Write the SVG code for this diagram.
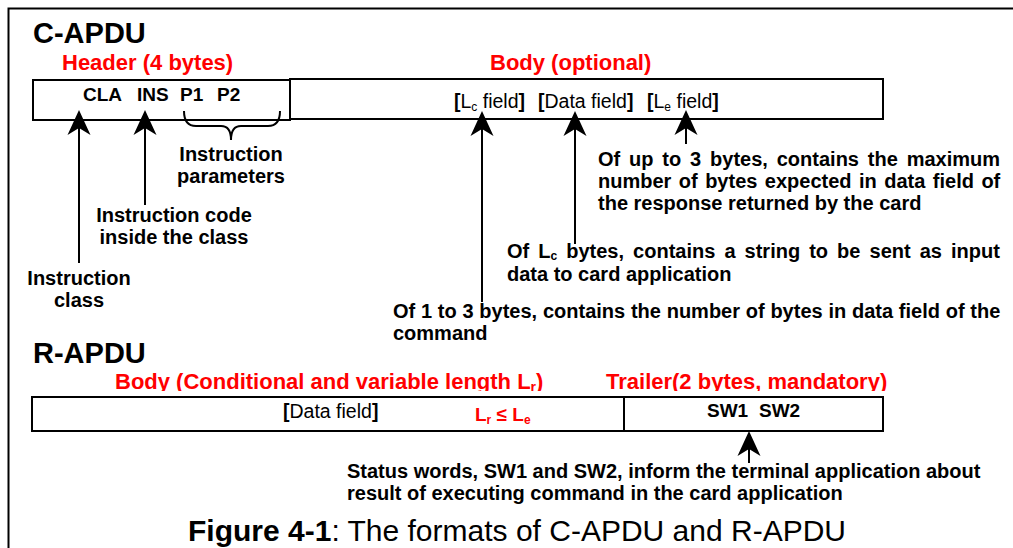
<svg xmlns="http://www.w3.org/2000/svg" xmlns:xlink="http://www.w3.org/1999/xlink" width="1013" height="548" viewBox="0 0 1013 548">
  <style>
    text { font-family: "Liberation Sans", Arial, sans-serif; fill: #000; }
    .title { font-size: 29px; font-weight: bold; }
    .sect { font-size: 22px; font-weight: bold; fill: #ff0000; }
    .note { font-size: 20px; font-weight: bold; }
    .code { font-size: 19px; font-weight: bold; }
    .fld { font-size: 19.5px; }
    .b { font-weight: bold; }
    .sub { font-size: 12px; }
    .box { fill: #fff; stroke: #000; stroke-width: 2; }
    .frame { fill: none; stroke: #000; stroke-width: 2; }
    .conn line, .conn path.brace { stroke: #000; stroke-width: 2; fill: none; }
  </style>
  <defs>
    <!-- concave arrowhead, tip at the origin, pointing up -->
    <path id="head" d="M0,0 L11.5,25 L0,18 L-11.5,25 Z" fill="#000"/>
    <clipPath id="rcut">
      <rect x="0" y="360" width="1013" height="31"/>
    </clipPath>
  </defs>

  <rect width="1013" height="548" fill="#fff"/>
  <rect class="frame" x="8.5" y="8.5" width="1030" height="560"/>

  <!-- command APDU -->
  <text class="title" x="33" y="43">C-APDU</text>

  <g id="c-header">
    <text class="sect" x="62" y="70">Header (4 bytes)</text>
    <rect class="box" x="33" y="80" width="257" height="40"/>
    <text class="code" x="83" y="101">CLA</text>
    <text class="code" x="137" y="101">INS</text>
    <text class="code" x="180" y="101">P1</text>
    <text class="code" x="217" y="101">P2</text>
  </g>

  <g id="c-body">
    <text class="sect" x="490" y="70">Body (optional)</text>
    <rect class="box" x="290" y="79" width="593" height="40"/>
    <text class="fld" x="454" y="108"><tspan class="b">[</tspan>L<tspan class="sub" dy="3">c</tspan><tspan dy="-3"> field</tspan><tspan class="b">]</tspan></text>
    <text class="fld" x="538" y="108"><tspan class="b">[</tspan>Data field<tspan class="b">]</tspan></text>
    <text class="fld" x="647" y="108"><tspan class="b">[</tspan>L<tspan class="sub" dy="3">e</tspan><tspan dy="-3"> field</tspan><tspan class="b">]</tspan></text>
  </g>

  <g id="lbl-params">
    <text class="note" x="231" y="161" text-anchor="middle">Instruction</text>
    <text class="note" x="231" y="183" text-anchor="middle">parameters</text>
  </g>

  <g id="lbl-ins">
    <text class="note" x="174" y="222" text-anchor="middle">Instruction code</text>
    <text class="note" x="174" y="244" text-anchor="middle">inside the class</text>
  </g>

  <g id="lbl-cla">
    <text class="note" x="79" y="285" text-anchor="middle">Instruction</text>
    <text class="note" x="79" y="307" text-anchor="middle">class</text>
  </g>

  <!-- justified paragraph lines: extra word spacing fills the line -->
  <g id="lbl-le">
    <text class="note" x="598" y="166" word-spacing="3.3">Of up to 3 bytes, contains the maximum</text>
    <text class="note" x="598" y="188" word-spacing="1.9">number of bytes expected in data field of</text>
    <text class="note" x="598" y="210">the response returned by the card</text>
  </g>

  <g id="lbl-data">
    <text class="note" x="507" y="258" word-spacing="3.5">Of L<tspan class="sub" dy="2">c</tspan><tspan dy="-2"> bytes, contains a string to be sent as input</tspan></text>
    <text class="note" x="507" y="281">data to card application</text>
  </g>

  <g id="lbl-lc">
    <text class="note" x="393" y="318" word-spacing="0.2">Of 1 to 3 bytes, contains the number of bytes in data field of the</text>
    <text class="note" x="393" y="340">command</text>
  </g>

  <!-- response APDU -->
  <text class="title" x="33" y="363">R-APDU</text>

  <g id="r-body">
    <text class="sect" x="115" y="389" clip-path="url(#rcut)">Body (Conditional and variable length L<tspan font-size="14px" dy="3">r</tspan><tspan dy="-3">)</tspan></text>
    <rect class="box" x="32" y="397" width="592" height="34"/>
    <text class="fld" x="283" y="418"><tspan class="b">[</tspan>Data field<tspan class="b">]</tspan></text>
    <text class="code" x="475" y="421" style="fill:#ff0000">L<tspan class="sub" dy="3">r</tspan><tspan dy="-3"> ≤ L</tspan><tspan class="sub" dy="3">e</tspan></text>
  </g>

  <g id="r-trailer">
    <text class="sect" x="606" y="389" clip-path="url(#rcut)">Trailer(2 bytes, mandatory)</text>
    <rect class="box" x="624" y="397" width="259" height="34"/>
    <text class="code" x="707" y="417">SW1</text>
    <text class="code" x="759" y="417">SW2</text>
  </g>

  <g id="lbl-sw">
    <text class="note" x="347" y="478">Status words, SW1 and SW2, inform the terminal application about</text>
    <text class="note" x="347" y="500">result of executing command in the card application</text>
  </g>

  <g id="connectors" class="conn">
    <line x1="79" y1="128" x2="79" y2="263"/>
    <use xlink:href="#head" x="79" y="110"/>
    <line x1="145" y1="128" x2="145" y2="205"/>
    <use xlink:href="#head" x="145" y="110"/>
    <path class="brace" d="M184,111 Q184,126 196,126 L221,126 Q231,126 231,140 Q231,126 241,126 L268,126 Q280,126 280,111"/>
    <line x1="482" y1="129" x2="482" y2="302"/>
    <use xlink:href="#head" x="482" y="111"/>
    <line x1="575" y1="129" x2="575" y2="244"/>
    <use xlink:href="#head" x="575" y="111"/>
    <line x1="686" y1="128" x2="686" y2="144"/>
    <use xlink:href="#head" x="686" y="110"/>
    <line x1="749" y1="449" x2="749" y2="463"/>
    <use xlink:href="#head" x="749" y="431"/>
  </g>

  <text x="188" y="541" style="font-size:30px"><tspan class="b">Figure 4-1</tspan>: The formats of C-APDU and R-APDU</text>
</svg>
